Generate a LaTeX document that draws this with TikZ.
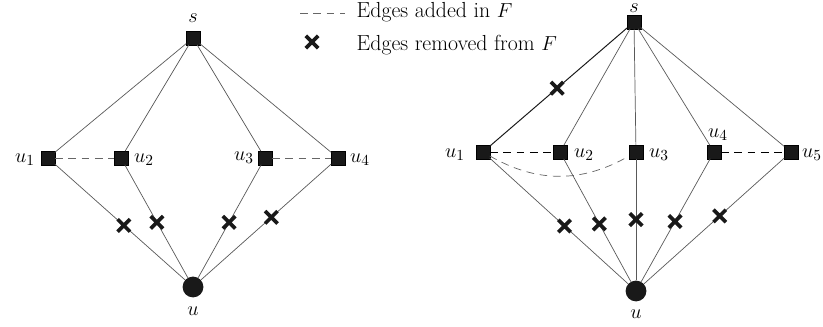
\documentclass[tikz,border=0pt]{standalone}
\usepackage{amsmath}
\usepackage{tikz}
\usetikzlibrary{shapes.misc}

\tikzset{
  vert/.style={draw=black, fill=black!90, rectangle, inner sep=0pt, outer sep=0pt, minimum size=0.34cm},
  root/.style={circle, fill=black!90, inner sep=0pt, minimum size=0.52cm},
  edge/.style={draw=black!65, line width=0.5pt},
  added/.style={draw=black!60, dash pattern=on 5.5pt off 4pt, line width=0.5pt},
  xmark/.style={cross out, draw=black!90, line width=2.6pt, minimum size=0.22cm, inner sep=0pt},
  lbl/.style={inner sep=1pt, font=\fontsize{15.5}{18}\selectfont}
}

\begin{document}
\begin{tikzpicture}[x=0.025cm, y=-0.025cm]
\useasboundingbox (0,0) rectangle (823,327);

% Legend
\coordinate (la) at (300,13);
\coordinate (lb) at (345,13);
\draw[added] (la) -- (lb);
\node[lbl, anchor=west] (ladd) at (355,12) {Edges added in $F$};
\node[xmark] (lx) at (312,42) {};
\node[lbl, anchor=west] (lrem) at (355,45) {Edges removed from $F$};

% Left graph
\node[vert] (s) at (193,38) {};
\node[vert] (a1) at (48,158) {};
\node[vert] (a2) at (121,158) {};
\node[vert] (a3) at (265,158) {};
\node[vert] (a4) at (338,158) {};
\node[root] (u) at (193,287) {};

\node[lbl] (ls) at (193,18) {$s$};
\node[lbl] (la1) at (25,160) {$u_1$};
\node[lbl] (la2) at (144,160) {$u_2$};
\node[lbl] (la3) at (244,158) {$u_3$};
\node[lbl] (la4) at (360,160) {$u_4$};
\node[lbl] (lu) at (193,311) {$u$};

\draw[edge] (s) -- (a1);
\draw[edge] (s) -- (a2);
\draw[edge] (s) -- (a3);
\draw[edge] (s) -- (a4);
\draw[edge] (a1) -- node[xmark, pos=.53] (x1) {} (u);
\draw[edge] (a2) -- node[xmark, pos=.51] (x2) {} (u);
\draw[edge] (a3) -- node[xmark, pos=.51] (x3) {} (u);
\draw[edge] (a4) -- node[xmark, pos=.46] (x4) {} (u);
\draw[added] (a1) -- (a2);
\draw[added] (a3) -- (a4);

% Right graph
\node[vert] (t) at (634,22) {};
\node[vert] (b1) at (483,152) {};
\node[vert] (b2) at (560,152) {};
\node[vert] (b3) at (636,152) {};
\node[vert] (b4) at (714,152) {};
\node[vert] (b5) at (791,152) {};
\node[root] (v) at (636,291) {};

\node[lbl, anchor=base, inner sep=0pt] (lt) at (634,12.5) {$s$};
\node[lbl] (lb1) at (455,155) {$u_1$};
\node[lbl] (lb2) at (584,155) {$u_2$};
\node[lbl] (lb3) at (659,155) {$u_3$};
\node[lbl] (lb4) at (718,135) {$u_4$};
\node[lbl] (lb5) at (812,155) {$u_5$};
\node[lbl] (lv) at (636,314) {$u$};

\draw[edge, draw=black!90, line width=0.7pt] (t) -- node[xmark, pos=.51] (y0) {} (b1);
\draw[edge] (t) -- (b2);
\draw[edge] (t) -- (b3);
\draw[edge] (t) -- (b4);
\draw[edge] (t) -- (b5);
\draw[edge] (b1) -- node[xmark, pos=.54] (y1) {} (v);
\draw[edge] (b2) -- node[xmark, pos=.53] (y2) {} (v);
\draw[edge] (b3) -- node[xmark, pos=.50] (y3) {} (v);
\draw[edge] (b4) -- node[xmark, pos=.51] (y4) {} (v);
\draw[edge] (b5) -- node[xmark, pos=.46] (y5) {} (v);
\draw[added, draw=black] (b1) -- (b2);
\draw[added, draw=black] (b4) -- (b5);
\draw[added] (b1) to[out=-30, in=-150] (b3);

\end{tikzpicture}
\end{document}
